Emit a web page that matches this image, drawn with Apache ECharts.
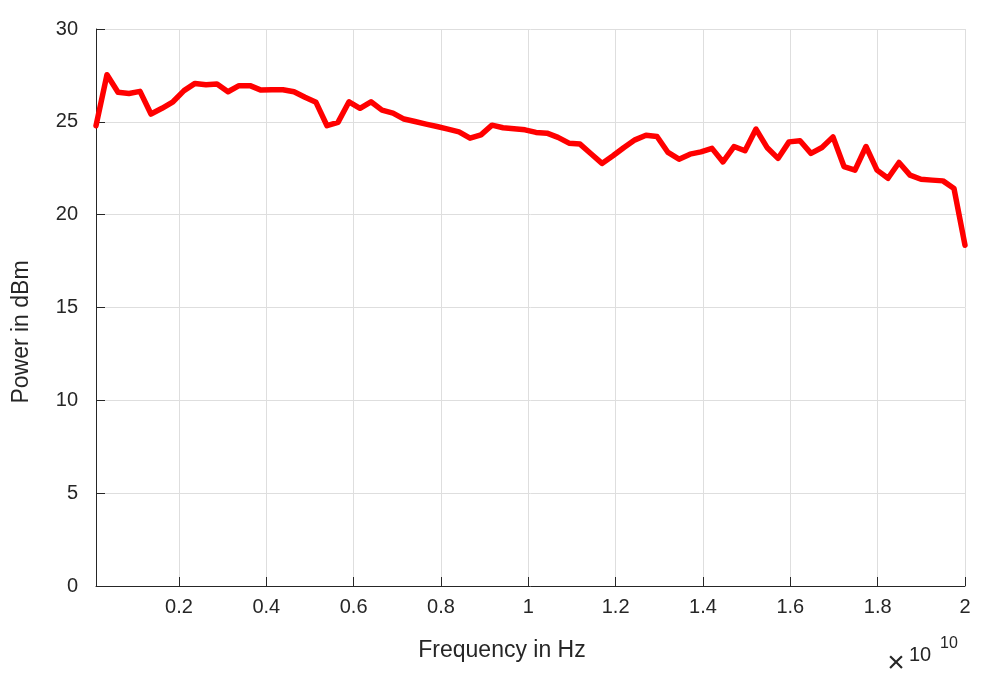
<!DOCTYPE html>
<html>
<head>
<meta charset="utf-8">
<script src="https://cdn.jsdelivr.net/npm/echarts@6/dist/echarts.min.js"></script>
<style>
html,body{margin:0;padding:0;background:#fff;}
#chart{width:994px;height:680px;}
</style>
</head>
<body>
<div id="chart"></div>
<script>
// Frequency (in units of 1e10 Hz)
const frequency = [
  0.0100, 0.0352, 0.0604, 0.0856, 0.1108, 0.1359, 0.1611, 0.1863, 0.2115, 0.2367,
  0.2619, 0.2871, 0.3123, 0.3375, 0.3627, 0.3878, 0.4130, 0.4382, 0.4634, 0.4886,
  0.5138, 0.5390, 0.5642, 0.5894, 0.6146, 0.6397, 0.6649, 0.6901, 0.7153, 0.7405,
  0.7657, 0.7909, 0.8161, 0.8413, 0.8665, 0.8916, 0.9168, 0.9420, 0.9672, 0.9924,
  1.0176, 1.0428, 1.0680, 1.0932, 1.1184, 1.1435, 1.1687, 1.1939, 1.2191, 1.2443,
  1.2695, 1.2947, 1.3199, 1.3451, 1.3703, 1.3954, 1.4206, 1.4458, 1.4710, 1.4962,
  1.5214, 1.5466, 1.5718, 1.5970, 1.6222, 1.6473, 1.6725, 1.6977, 1.7229, 1.7481,
  1.7733, 1.7985, 1.8237, 1.8489, 1.8741, 1.8992, 1.9244, 1.9496, 1.9748, 2.0000
];
// Power in dBm
const power = [
  24.79, 27.54, 26.59, 26.53, 26.64, 25.42, 25.73, 26.08, 26.68, 27.07,
  27.00, 27.04, 26.62, 26.95, 26.95, 26.71, 26.73, 26.73, 26.62, 26.32,
  26.05, 24.79, 24.97, 26.08, 25.73, 26.08, 25.63, 25.47, 25.15, 25.02,
  24.88, 24.75, 24.61, 24.46, 24.12, 24.30, 24.82, 24.68, 24.63, 24.57,
  24.43, 24.39, 24.16, 23.85, 23.80, 23.28, 22.76, 23.17, 23.62, 24.03,
  24.28, 24.21, 23.35, 22.99, 23.26, 23.38, 23.57, 22.84, 23.67, 23.44,
  24.61, 23.62, 23.03, 23.92, 23.98, 23.30, 23.62, 24.19, 22.59, 22.40,
  23.67, 22.40, 21.96, 22.81, 22.13, 21.91, 21.86, 21.82, 21.41, 18.35
];
const xTicks = [0.2, 0.4, 0.6, 0.8, 1.0, 1.2, 1.4, 1.6, 1.8, 2.0];
const yTicks = [0, 5, 10, 15, 20, 25, 30];
const xName = 'Frequency in Hz';
const yName = 'Power in dBm';

const FONT = '"Liberation Sans", Arial, sans-serif';
const TXT = '#262626';
const GRID = '#dedede';

const chart = echarts.init(document.getElementById('chart'), null, {renderer: 'canvas'});
chart.setOption({
  animation: false,
  backgroundColor: '#ffffff',
  grid: {left: 96, right: 29, top: 29, bottom: 94, containLabel: false},
  xAxis: {
    type: 'value',
    min: 0.01, max: 2,
    axisLine: {show: true, onZero: false, lineStyle: {color: TXT, width: 1}},
    axisTick: {show: true, inside: true, length: 9, customValues: xTicks, lineStyle: {color: TXT}},
    axisLabel: {
      customValues: xTicks, margin: 11, fontSize: 20, color: TXT, fontFamily: FONT,
      formatter: v => String(Math.round(v * 10) / 10)
    },
    splitLine: {show: true, lineStyle: {color: GRID, width: 1}}
  },
  yAxis: {
    type: 'value',
    min: 0, max: 30, interval: 5,
    axisLine: {show: true, onZero: false, lineStyle: {color: TXT, width: 1}},
    axisTick: {show: true, inside: true, length: 9, lineStyle: {color: TXT}},
    axisLabel: {margin: 18, fontSize: 20, color: TXT, fontFamily: FONT, padding: [0, 0, 11, 0]},
    splitLine: {show: true, lineStyle: {color: GRID, width: 1}}
  },
  graphic: [
    {type: 'text', x: 502, y: 651,
      style: {text: xName, font: '23px ' + FONT, fill: TXT, align: 'center', verticalAlign: 'middle'}},
    {type: 'text', x: 22, y: 332, rotation: Math.PI / 2,
      style: {text: yName, font: '23px ' + FONT, fill: TXT, align: 'center', verticalAlign: 'middle'}},
    {type: 'text', x: 896, y: 664,
      style: {text: '\u00d7', font: '30px ' + FONT, fill: TXT, align: 'center', verticalAlign: 'middle'}},
    {type: 'text', x: 909, y: 645, style: {text: '10', font: '20px ' + FONT, fill: TXT}},
    {type: 'text', x: 940, y: 636, style: {text: '10', font: '16px ' + FONT, fill: TXT}}
  ],
  series: [{
    type: 'line',
    data: frequency.map((f, i) => [f, power[i]]),
    showSymbol: false,
    lineStyle: {color: '#ff0000', width: 5.5, join: 'round', cap: 'round'},
    itemStyle: {color: '#ff0000'},
    clip: true
  }]
});
</script>
</body>
</html>
